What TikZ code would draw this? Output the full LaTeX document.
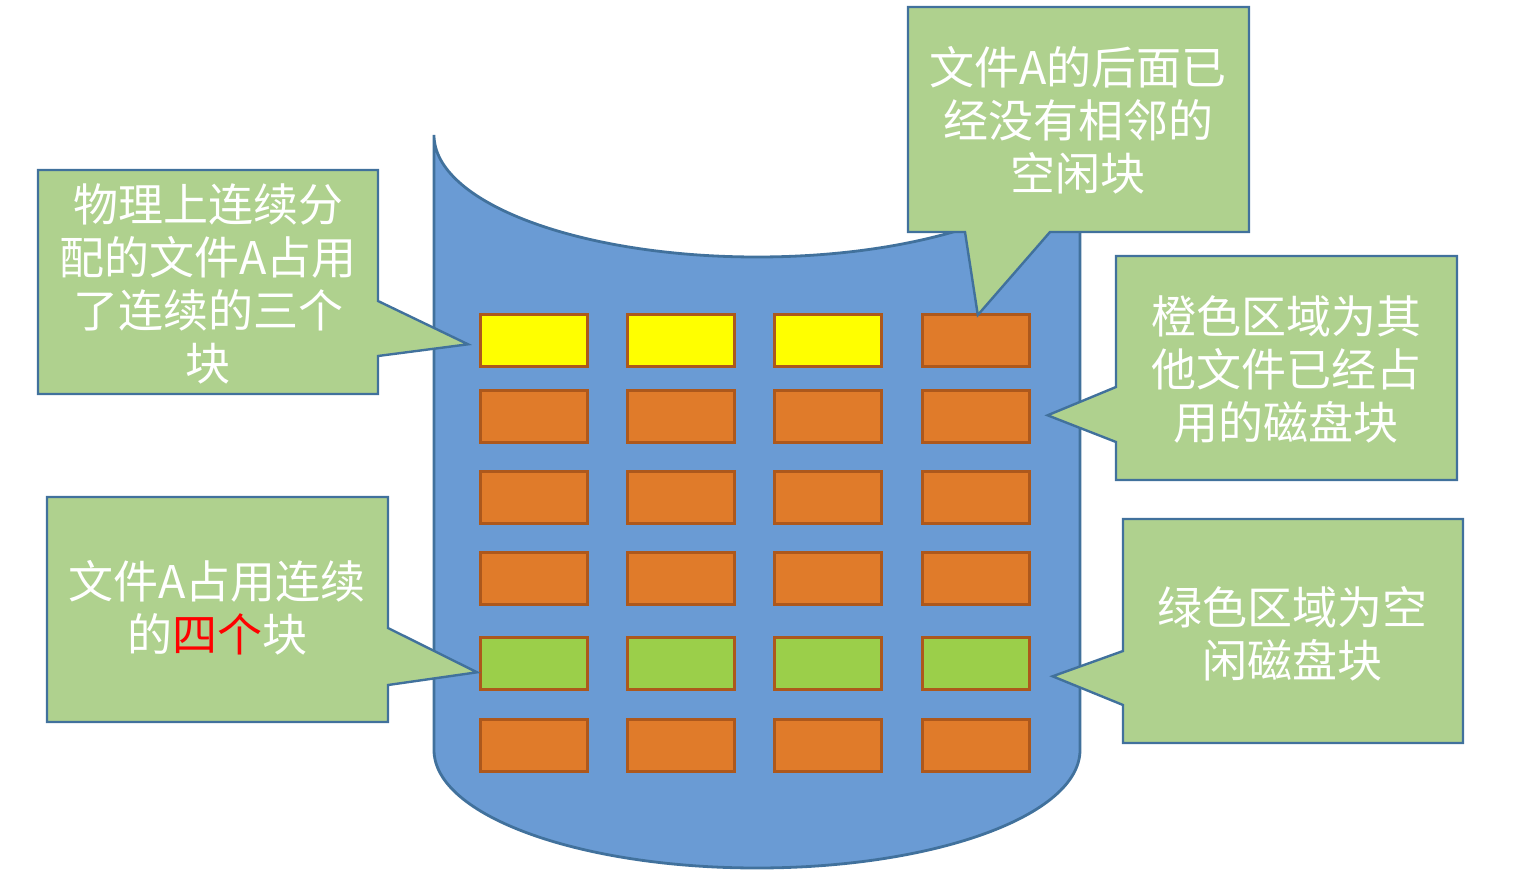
\documentclass[tikz,border=0pt]{standalone}
\usepackage{fontspec}
\newfontfamily\cjk{Noto Sans CJK SC}
\definecolor{calfill}{HTML}{AFD18E}
\definecolor{caledge}{HTML}{41719C}
\definecolor{cylfill}{HTML}{6A9BD4}
\definecolor{cyledge}{HTML}{41719C}
\definecolor{orblk}{HTML}{E07B2A}
\definecolor{blkedge}{HTML}{AD581C}
\definecolor{grblk}{HTML}{9BCF4A}
\definecolor{yeblk}{HTML}{FFFF00}
\tikzset{
  callout/.style={fill=calfill,draw=caledge,line width=2.4pt,line join=miter},
  caltext/.style={text=white,font=\cjk\fontsize{45}{53}\selectfont,align=center,inner sep=0pt},
  blk/.style={draw=blkedge,line width=2.6pt,minimum width=107pt,minimum height=52pt,inner sep=0pt,anchor=north west},
}
\begin{document}
\begin{tikzpicture}[x=1pt,y=-1pt]
\useasboundingbox (0,0) rectangle (1513,885);
% cylinder
\draw[fill=cylfill,draw=cyledge,line width=2.8pt]
  (434,135) -- (434,750) arc[start angle=180,end angle=360,x radius=323pt,y radius=118pt]
  -- (1080,135) arc[start angle=0,end angle=-180,x radius=323pt,y radius=122pt] -- cycle;
% blocks
\foreach \r/\y in {1/313,2/389,3/470,4/551,5/636,6/718}{
  \foreach \c/\x in {1/479,2/626,3/773,4/921}{
    \ifnum\r=1
      \ifnum\c<4 \def\bc{yeblk}\else\def\bc{orblk}\fi
    \else\ifnum\r=5 \def\bc{grblk}\else\def\bc{orblk}\fi\fi
    \node[blk,fill=\bc] (b\r\c) at (\x,\y) {};
  }
}
% pointer tips
\coordinate (p1) at ([xshift=-11pt,yshift=-4pt]b11.west);
\coordinate (p2) at ([xshift=-2pt,yshift=-9pt]b51.west);
\coordinate (p3) at ([xshift=2pt,yshift=-2pt]b14.north);
\coordinate (p4) at ([xshift=17pt,yshift=1pt]b24.east);
\coordinate (p5) at ([xshift=22pt,yshift=-13pt]b54.east);
% callouts
\draw[callout] (38,170) -- (378,170) -- (378,301) -- (p1) -- (378,356) -- (378,394) -- (38,394) -- cycle;
\node[caltext] (t1) at (208,284) {物理上连续分\\配的文件A占用\\了连续的三个\\块};
\draw[callout] (47,497) -- (388,497) -- (388,628) -- (p2) -- (388,685) -- (388,722) -- (47,722) -- cycle;
\node[caltext] (t2) at (217,608) {文件A占用连续\\的\textcolor{red}{四个}块};
\draw[callout] (908,7) -- (1249,7) -- (1249,232) -- (1050,232) -- (p3) -- (965,232) -- (908,232) -- cycle;
\node[caltext] (t3) at (1078,120) {文件A的后面已\\经没有相邻的\\空闲块};
\draw[callout] (1116,256) -- (1457,256) -- (1457,480) -- (1116,480) -- (1116,442) -- (p4) -- (1116,387) -- cycle;
\node[caltext] (t4) at (1286,369) {橙色区域为其\\他文件已经占\\用的磁盘块};
\draw[callout] (1123,519) -- (1463,519) -- (1463,743) -- (1123,743) -- (1123,705) -- (p5) -- (1123,651) -- cycle;
\node[caltext] (t5) at (1292,634) {绿色区域为空\\闲磁盘块};
\end{tikzpicture}
\end{document}
